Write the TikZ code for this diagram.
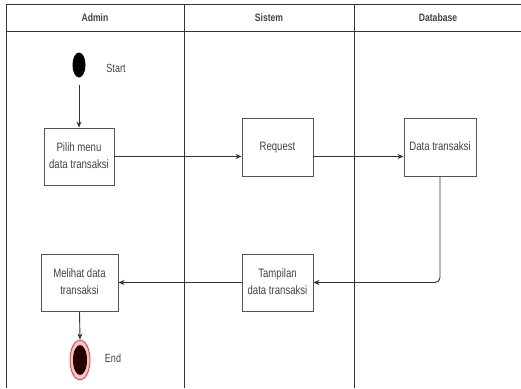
\documentclass[tikz,border=0pt]{standalone}
\usepackage{fontspec}
\setmainfont{Liberation Sans}
\usetikzlibrary{arrows.meta,shapes.geometric}
\definecolor{ln}{HTML}{333333}
\definecolor{bx}{HTML}{555555}
\definecolor{txt}{HTML}{444444}
\definecolor{endred}{HTML}{D04848}
\definecolor{endfill}{HTML}{F3C4C4}
\newcommand{\lbl}[1]{\scalebox{0.96}[1.22]{\begin{tabular}{@{}c@{}}#1\end{tabular}}}
\tikzset{
  lane/.style={draw=ln, line width=0.9pt},
  box/.style={draw=bx, line width=0.9pt, fill=white, inner sep=0pt, text=txt,
              font=\fontsize{10}{14.5}\selectfont},
  arr/.style={draw=ln, line width=0.9pt, -{Stealth[length=6pt,width=5pt]}},
  hdr/.style={font=\bfseries\fontsize{8.6}{10}\selectfont, text=txt},
  plain/.style={font=\fontsize{9.5}{10}\selectfont, text=txt}
}
\begin{document}
\begin{tikzpicture}[x=1pt,y=-1pt]
\useasboundingbox (0,0) rectangle (521,388);
\fill[white] (0,0) rectangle (521,388);
% swimlane frame
\coordinate (tl) at (6,4);
\coordinate (tr) at (521,4);
\coordinate (hl) at (6,31);
\coordinate (hr) at (521,31);
\coordinate (bl) at (6,388);
\coordinate (d1t) at (184,4);
\coordinate (d1b) at (184,388);
\coordinate (d2t) at (354,4);
\coordinate (d2b) at (354,388);
\draw[lane] (bl) -- (tl) -- (tr);
\draw[lane] (hl) -- (hr);
\draw[lane] (d1t) -- (d1b);
\draw[lane] (d2t) -- (d2b);
\node[hdr] (h1) at (95,18) {\scalebox{1}[1.25]{Admin}};
\node[hdr] (h2) at (269,18) {\scalebox{1}[1.25]{Sistem}};
\node[hdr] (h3) at (438,18) {\scalebox{1}[1.25]{Database}};
% start
\node[ellipse, fill=black, minimum width=13pt, minimum height=25pt, inner sep=0pt] (start) at (79,65) {};
\node[plain] (startl) at (116,68) {\scalebox{0.95}[1.25]{Start}};
% boxes
\node[box, minimum width=70pt, minimum height=57pt] (pilih) at (79,156.5) {\lbl{Pilih menu\\data transaksi}};
\node[box, minimum width=71pt, minimum height=58pt] (req) at (277.5,147) {\lbl{Request}};
\node[box, minimum width=72pt, minimum height=58pt] (data) at (440,147) {\lbl{Data transaksi}};
\node[box, minimum width=71pt, minimum height=57pt] (tamp) at (277.5,282.5) {\lbl{Tampilan\\data transaksi}};
\node[box, minimum width=77pt, minimum height=57pt] (lihat) at (79.5,282.5) {\lbl{Melihat data\\transaksi}};
% end
\node[ellipse, draw=endred, line width=0.9pt, fill=endfill, minimum width=20pt, minimum height=40pt, inner sep=0pt] (end) at (80,360) {};
\node[ellipse, fill=black!85!red, minimum width=14pt, minimum height=30pt, inner sep=0pt] (endin) at (80,360) {};
\node[plain] (endl) at (113,358) {\scalebox{0.95}[1.25]{End}};
% connectors
\draw[arr, shorten <=7pt] (start) -- (pilih);
\draw[arr] (pilih.east) -- (pilih.east -| req.west);
\draw[arr] (req.east |- pilih.east) -- (data.west |- pilih.east);
\draw[arr, rounded corners=5pt] (data.south) |- (tamp.east);
\draw[arr] (tamp.west) -- (lihat.east);
\draw[arr] (lihat.south) -- (end.north);
\end{tikzpicture}
\end{document}
